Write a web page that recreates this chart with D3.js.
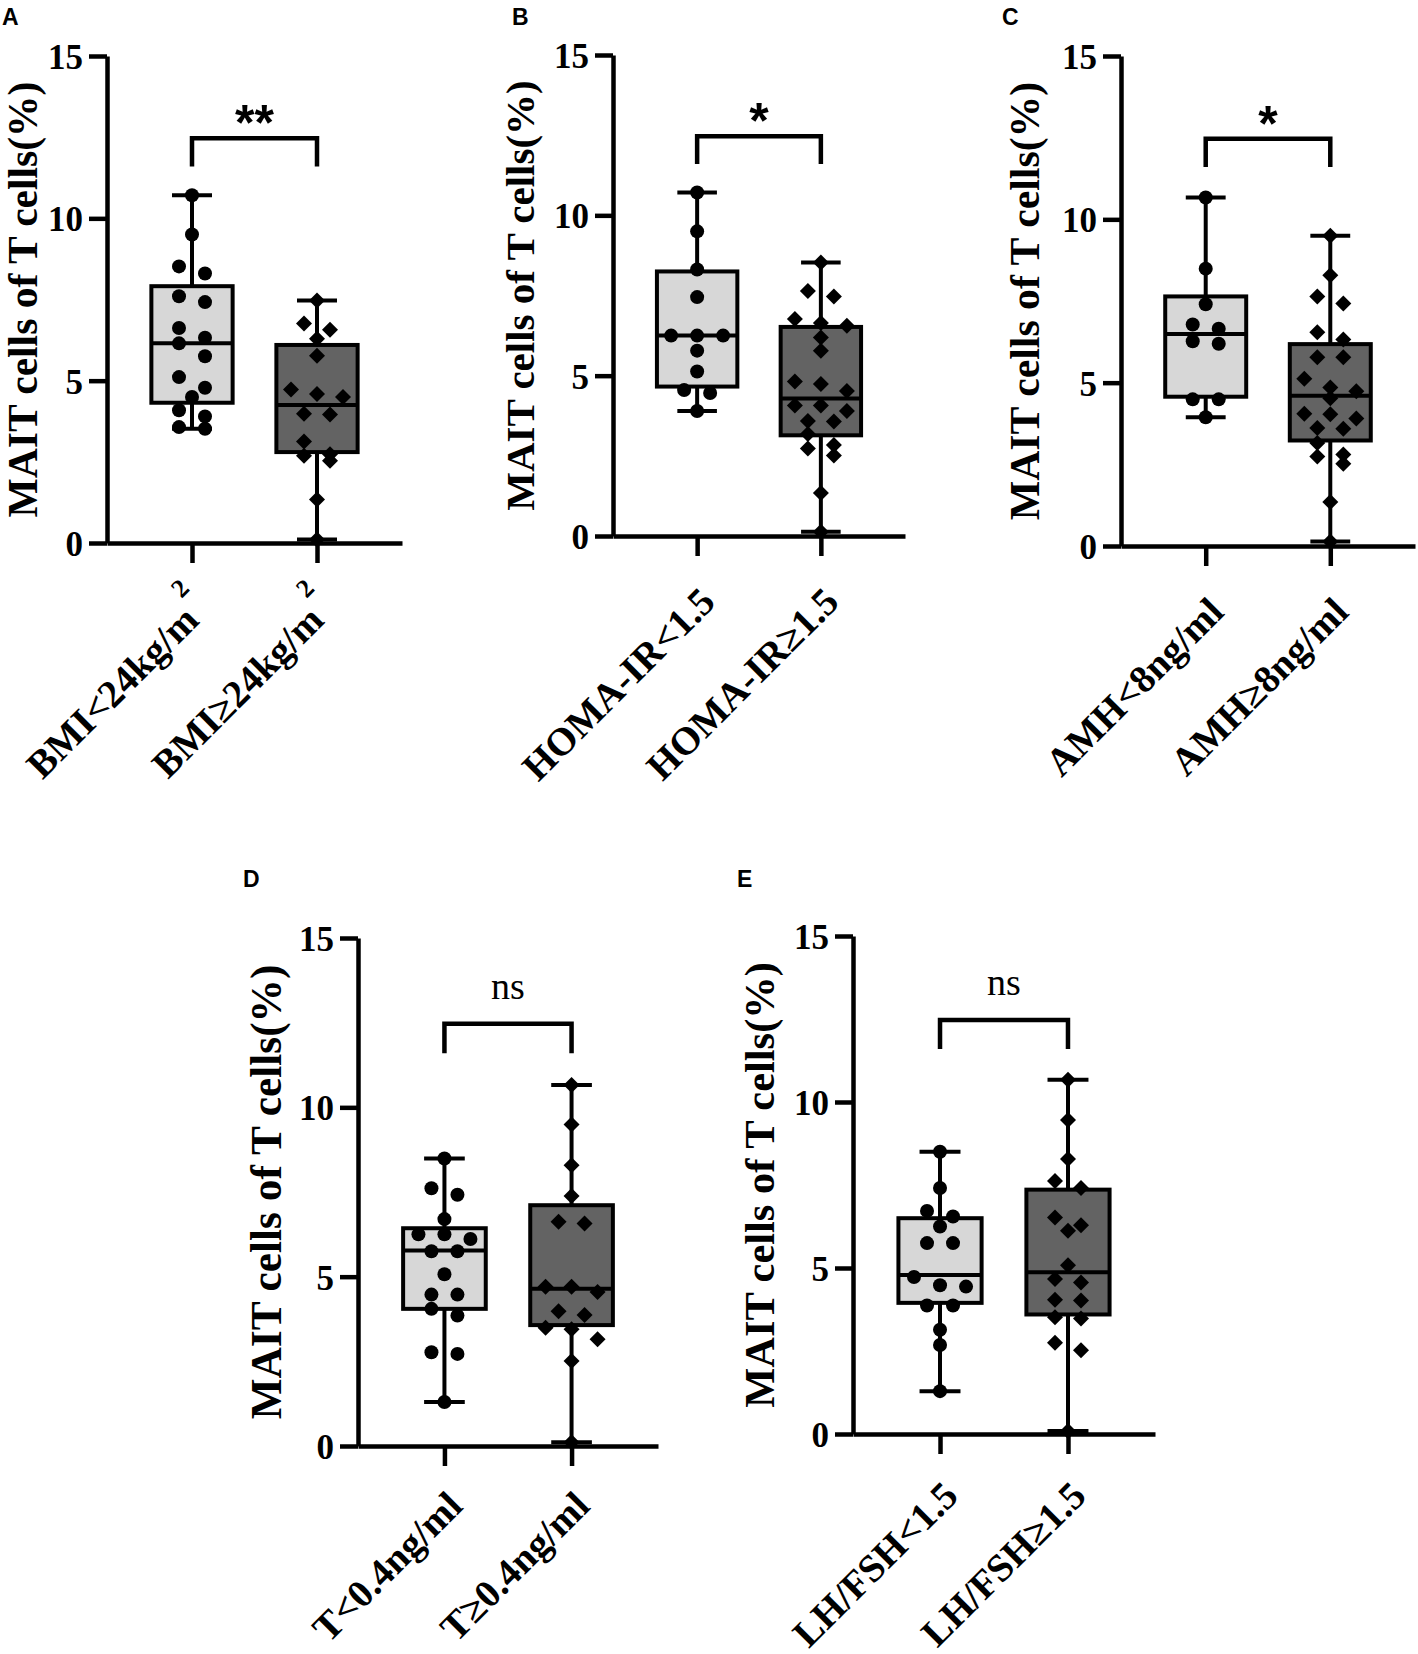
<!DOCTYPE html>
<html>
<head>
<meta charset="utf-8">
<script src="https://cdn.jsdelivr.net/npm/d3@7"></script>
<style>
  body { margin: 0; background: #fff; }
</style>
</head>
<body>
<svg id="fig"></svg>
<script>
// MAIT cells of T cells (%)
const catsA = ["BMI<24kg/m", "BMI≥24kg/m"];
const supA = ["2", "2"];
const a1 = [10.71, 9.5, 8.52, 8.3, 7.6, 7.42, 6.62, 6.32, 6.15, 5.75, 5.11, 4.78, 4.5, 4.09, 3.9, 3.57, 3.52];
const a2 = [7.47, 6.76, 6.57, 6.29, 5.77, 4.73, 4.59, 4.5, 3.98, 3.96, 3.13, 2.73, 2.69, 2.53, 1.34, 0.11];
// min, q1, median, q3, max
const statsA = [[3.52, 4.32, 6.15, 7.91, 10.71], [0.11, 2.8, 4.25, 6.1, 7.47]];

const catsB = ["HOMA-IR<1.5", "HOMA-IR≥1.5"];
const b1 = [10.71, 9.5, 8.31, 7.45, 6.25, 6.25, 6.25, 5.78, 5.13, 4.55, 4.46, 3.9];
const b2 = [8.53, 7.64, 7.47, 6.77, 6.64, 6.56, 6.19, 5.78, 4.82, 4.74, 4.52, 4.07, 4.07, 3.9, 3.59, 3.57, 3.18, 2.84, 2.73, 2.51, 1.34, 0.13];
const statsB = [[3.9, 4.66, 6.25, 8.25, 10.71], [0.13, 3.14, 4.29, 6.52, 8.53]];

const catsC = ["AMH<8ng/ml", "AMH≥8ng/ml"];
const c1 = [10.67, 8.49, 7.4, 6.78, 6.65, 6.27, 6.19, 4.49, 4.49, 3.94];
const c2 = [9.5, 8.29, 7.64, 7.42, 6.54, 6.32, 5.78, 5.78, 5.12, 4.85, 4.74, 4.52, 4.05, 4.03, 3.9, 3.61, 3.59, 3.15, 2.8, 2.74, 2.52, 1.35, 0.14];
const statsC = [[3.94, 4.57, 6.49, 7.64, 10.67], [0.14, 3.23, 4.6, 6.18, 9.5]];

const catsD = ["T<0.4ng/ml", "T≥0.4ng/ml"];
const d1 = [8.49, 7.61, 7.42, 6.7, 6.25, 6.25, 6.11, 5.75, 5.75, 5.07, 4.47, 4.47, 4.05, 3.85, 2.77, 2.72, 1.3];
const d2 = [10.66, 9.49, 8.29, 7.38, 6.62, 6.57, 4.7, 4.7, 4.55, 3.98, 3.87, 3.49, 3.45, 3.15, 2.51, 0.11];
const statsD = [[1.3, 4.05, 5.77, 6.43, 8.49], [0.11, 3.57, 4.64, 7.11, 10.66]];

const catsE = ["LH/FSH<1.5", "LH/FSH≥1.5"];
const e1 = [8.5, 7.41, 6.72, 6.55, 6.25, 5.75, 5.75, 4.73, 4.48, 4.44, 3.87, 3.87, 3.14, 2.68, 1.29];
const e2 = [10.67, 9.46, 8.28, 7.62, 7.41, 6.52, 6.29, 6.12, 5.08, 4.67, 4.56, 4.04, 4.02, 3.52, 3.48, 2.75, 2.52, 0.09];
const statsE = [[1.29, 3.95, 4.79, 6.5, 8.5], [0.09, 3.6, 4.87, 7.36, 10.67]];

const yTicks = [0, 5, 10, 15];
const sigLabels = ["**", "*", "*", "ns", "ns"];
const bracket = [11.6, 12.47]; // foot, top
const yTitle = "MAIT cells of T cells(%)";

const width = 1418, height = 1654;
const serif = "'Liberation Serif', 'Times New Roman', serif";
const sans = "'Liberation Sans', Arial, sans-serif";
const fills = ["#d7d7d7", "#636363"];

const panels = [
    { letter: "A", cats: catsA, sup: supA, groups: [a1, a2], stats: statsA,
      left: 107, right: 402, top: 56, bottom: 543, titleX: 37, lx: 2, ly: 25, lab: 68 },
    { letter: "B", cats: catsB, sup: null, groups: [b1, b2], stats: statsB,
      left: 613, right: 905, top: 55, bottom: 536, titleX: 534, lx: 512, ly: 25, lab: 68 },
    { letter: "C", cats: catsC, sup: null, groups: [c1, c2], stats: statsC,
      left: 1121, right: 1415, top: 56, bottom: 546, titleX: 1039, lx: 1002, ly: 25, lab: 68 },
    { letter: "D", cats: catsD, sup: null, groups: [d1, d2], stats: statsD,
      left: 358, right: 658, top: 938, bottom: 1446, titleX: 281, lx: 243, ly: 887, lab: 62 },
    { letter: "E", cats: catsE, sup: null, groups: [e1, e2], stats: statsE,
      left: 853, right: 1155, top: 936, bottom: 1434, titleX: 774, lx: 737, ly: 887, lab: 64 }
];

const svg = d3.select("#fig").attr("width", width).attr("height", height);

// simple row-based scatter, like the column scatter in the figure
function swarm(values, y, spacing) {
    const pts = values.map((v) => ({ v: v })).sort((p, q) => q.v - p.v);
    const rows = [];
    pts.forEach((p) => {
        const last = rows[rows.length - 1];
        if (last && Math.abs(y(last[0].v) - y(p.v)) < 13) last.push(p);
        else rows.push([p]);
    });
    rows.forEach((r) => r.forEach((p, i) => { p.dx = (i - (r.length - 1) / 2) * spacing; }));
    return pts;
}

panels.forEach((p, k) => {
    const g = svg.append("g");
    const y = d3.scaleLinear().domain([0, 15]).range([p.bottom, p.top]);
    const x = d3.scalePoint().domain(p.cats).range([p.left, p.right]).padding(0.68);
    const step = x.step();
    const bw = step * 0.65;
    const cw = step * 0.32;

    // panel letter
    g.append("text").attr("x", p.lx).attr("y", p.ly)
        .style("font-family", sans).style("font-weight", "bold").style("font-size", "23px")
        .text(p.letter);

    // y axis
    const yAxis = g.append("g").attr("transform", `translate(${p.left},0)`)
        .call(d3.axisLeft(y).tickValues(yTicks).tickSize(18).tickSizeOuter(0).tickPadding(6));
    yAxis.selectAll("path, line").attr("stroke", "#000").attr("stroke-width", 4.5);
    yAxis.selectAll("text").style("font-family", serif).style("font-weight", "bold")
        .style("font-size", "35px").attr("fill", "#000").attr("dy", "0.36em");

    // x axis
    const xAxis = g.append("g").attr("transform", `translate(0,${p.bottom})`)
        .call(d3.axisBottom(x).tickSize(20).tickSizeOuter(0).tickFormat(""));
    xAxis.selectAll("path, line").attr("stroke", "#000").attr("stroke-width", 4.5);

    // category labels
    p.cats.forEach((c, i) => {
        const t = g.append("text")
            .attr("transform", `translate(${x(c) + 20},${p.bottom + p.lab}) rotate(-45)`)
            .attr("text-anchor", "end")
            .style("font-family", serif).style("font-weight", "bold").style("font-size", "39px");
        t.append("tspan").text(c);
        if (p.sup) {
            t.append("tspan").attr("dx", 3).attr("dy", -30).style("font-size", "26px").text(p.sup[i]);
        }
    });

    // y title
    const h = p.bottom - p.top;
    g.append("text")
        .attr("transform", `translate(${p.titleX},${(p.top + p.bottom) / 2}) rotate(-90)`)
        .attr("text-anchor", "middle")
        .attr("textLength", h * 0.895).attr("lengthAdjust", "spacingAndGlyphs")
        .style("font-family", serif).style("font-weight", "bold")
        .style("font-size", `${(h * 0.895 / 10.5).toFixed(1)}px`)
        .text(yTitle);

    // boxes and whiskers
    p.stats.forEach((s, i) => {
        const cx = x(p.cats[i]);
        const [mn, q1, md, q3, mx] = s;
        const bg = g.append("g").attr("stroke", "#000").attr("stroke-width", 4);
        bg.append("line").attr("x1", cx).attr("x2", cx).attr("y1", y(mx)).attr("y2", y(q3));
        bg.append("line").attr("x1", cx).attr("x2", cx).attr("y1", y(q1)).attr("y2", y(mn));
        bg.append("line").attr("x1", cx - cw / 2).attr("x2", cx + cw / 2).attr("y1", y(mx)).attr("y2", y(mx));
        bg.append("line").attr("x1", cx - cw / 2).attr("x2", cx + cw / 2).attr("y1", y(mn)).attr("y2", y(mn));
        bg.append("rect").attr("x", cx - bw / 2).attr("y", y(q3))
            .attr("width", bw).attr("height", y(q1) - y(q3)).attr("fill", fills[i]);
        bg.append("line").attr("x1", cx - bw / 2).attr("x2", cx + bw / 2).attr("y1", y(md)).attr("y2", y(md));
    });

    // points
    p.groups.forEach((vals, i) => {
        const cx = x(p.cats[i]);
        const pts = swarm(vals, y, 26);
        if (i === 0) {
            g.append("g").selectAll("circle").data(pts).join("circle")
                .attr("cx", (d) => cx + d.dx).attr("cy", (d) => y(d.v)).attr("r", 7).attr("fill", "#000");
        } else {
            const sym = d3.symbol().type(d3.symbolSquare).size(128);
            g.append("g").selectAll("path").data(pts).join("path")
                .attr("d", sym)
                .attr("transform", (d) => `translate(${cx + d.dx},${y(d.v)}) rotate(45)`)
                .attr("fill", "#000");
        }
    });

    // significance bracket
    const xa = x(p.cats[0]), xb = x(p.cats[1]);
    g.append("path")
        .attr("d", `M${xa},${y(bracket[0])}V${y(bracket[1])}H${xb}V${y(bracket[0])}`)
        .attr("fill", "none").attr("stroke", "#000").attr("stroke-width", 4.5);
    const sig = sigLabels[k];
    const st = g.append("text").attr("x", (xa + xb) / 2).attr("text-anchor", "middle").text(sig);
    if (sig === "ns") {
        st.attr("y", y(bracket[1]) - 25).style("font-family", serif).style("font-size", "38px");
    } else {
        st.attr("y", y(bracket[1]) + 2).style("font-family", sans).style("font-weight", "bold").style("font-size", "50px");
    }
});
</script>
</body>
</html>
